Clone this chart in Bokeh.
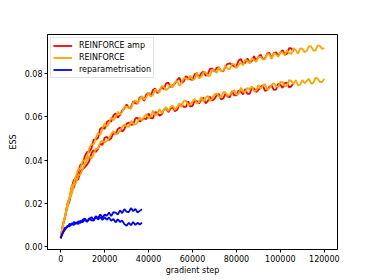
from bokeh.plotting import figure
from bokeh.models import Range1d, FixedTicker, PrintfTickFormatter, BasicTickFormatter
from bokeh.embed import file_html
from bokeh.resources import INLINE

# gradient steps at which the REINFORCE runs were logged (every 1000 steps)
steps = list(range(0, 120001, 1000))

# REINFORCE, run 1 (upper) and run 2 (lower)
reinforce_1 = [
    0.0040, 0.0103, 0.0141, 0.0196, 0.0227, 0.0277, 0.0294, 0.0328, 0.0358, 0.0362,
    0.0396, 0.0400, 0.0413, 0.0455, 0.0474, 0.0471, 0.0502, 0.0524, 0.0516, 0.0547,
    0.0570, 0.0554, 0.0570, 0.0597, 0.0584, 0.0597, 0.0623, 0.0609, 0.0622, 0.0646,
    0.0647, 0.0641, 0.0636, 0.0666, 0.0676, 0.0661, 0.0681, 0.0695, 0.0679, 0.0689,
    0.0712, 0.0692, 0.0701, 0.0726, 0.0717, 0.0713, 0.0742, 0.0737, 0.0722, 0.0731,
    0.0748, 0.0735, 0.0759, 0.0765, 0.0743, 0.0755, 0.0777, 0.0778, 0.0770, 0.0789,
    0.0769, 0.0774, 0.0802, 0.0776, 0.0784, 0.0805, 0.0804, 0.0788, 0.0790, 0.0818,
    0.0811, 0.0802, 0.0828, 0.0811, 0.0812, 0.0835, 0.0822, 0.0819, 0.0843, 0.0842,
    0.0823, 0.0838, 0.0851, 0.0836, 0.0863, 0.0858, 0.0845, 0.0869, 0.0862, 0.0853,
    0.0875, 0.0876, 0.0863, 0.0865, 0.0890, 0.0887, 0.0866, 0.0894, 0.0888, 0.0875,
    0.0898, 0.0896, 0.0883, 0.0906, 0.0893, 0.0889, 0.0916, 0.0907, 0.0891, 0.0915,
    0.0913, 0.0897, 0.0904, 0.0925, 0.0924, 0.0905, 0.0905, 0.0929, 0.0926, 0.0912,
    0.0917]
reinforce_2 = [
    0.0040, 0.0093, 0.0145, 0.0176, 0.0221, 0.0243, 0.0284, 0.0295, 0.0329, 0.0334,
    0.0358, 0.0382, 0.0400, 0.0417, 0.0407, 0.0426, 0.0453, 0.0453, 0.0482, 0.0490,
    0.0481, 0.0487, 0.0501, 0.0520, 0.0534, 0.0518, 0.0522, 0.0534, 0.0553, 0.0564,
    0.0556, 0.0553, 0.0581, 0.0568, 0.0563, 0.0574, 0.0596, 0.0582, 0.0600, 0.0612,
    0.0593, 0.0601, 0.0628, 0.0606, 0.0613, 0.0635, 0.0616, 0.0633, 0.0644, 0.0626,
    0.0644, 0.0652, 0.0632, 0.0643, 0.0661, 0.0645, 0.0673, 0.0674, 0.0655, 0.0657,
    0.0670, 0.0682, 0.0660, 0.0668, 0.0690, 0.0669, 0.0689, 0.0696, 0.0672, 0.0684,
    0.0703, 0.0707, 0.0694, 0.0689, 0.0714, 0.0712, 0.0696, 0.0701, 0.0714, 0.0722,
    0.0701, 0.0706, 0.0734, 0.0716, 0.0714, 0.0733, 0.0726, 0.0740, 0.0718, 0.0720,
    0.0746, 0.0729, 0.0743, 0.0750, 0.0723, 0.0731, 0.0747, 0.0755, 0.0740, 0.0738,
    0.0759, 0.0760, 0.0740, 0.0743, 0.0769, 0.0765, 0.0750, 0.0769, 0.0745, 0.0747,
    0.0769, 0.0754, 0.0765, 0.0775, 0.0753, 0.0755, 0.0781, 0.0775, 0.0760, 0.0760,
    0.0775]

# REINFORCE amp runs stop at 106000 steps
amp_steps = steps[:107]
amp_1 = [
    0.0040, 0.0104, 0.0140, 0.0197, 0.0224, 0.0275, 0.0308, 0.0318, 0.0346, 0.0379,
    0.0382, 0.0418, 0.0438, 0.0438, 0.0455, 0.0494, 0.0494, 0.0503, 0.0545, 0.0551,
    0.0543, 0.0575, 0.0583, 0.0577, 0.0606, 0.0615, 0.0596, 0.0607, 0.0629, 0.0639,
    0.0656, 0.0640, 0.0643, 0.0671, 0.0662, 0.0661, 0.0689, 0.0691, 0.0673, 0.0703,
    0.0710, 0.0696, 0.0723, 0.0730, 0.0709, 0.0721, 0.0736, 0.0727, 0.0754, 0.0757,
    0.0737, 0.0744, 0.0753, 0.0769, 0.0780, 0.0755, 0.0762, 0.0787, 0.0780, 0.0772,
    0.0770, 0.0796, 0.0801, 0.0781, 0.0801, 0.0809, 0.0789, 0.0797, 0.0822, 0.0822,
    0.0808, 0.0825, 0.0828, 0.0812, 0.0809, 0.0832, 0.0844, 0.0846, 0.0839, 0.0831,
    0.0833, 0.0859, 0.0866, 0.0846, 0.0848, 0.0869, 0.0849, 0.0857, 0.0879, 0.0858,
    0.0876, 0.0886, 0.0866, 0.0869, 0.0892, 0.0894, 0.0870, 0.0893, 0.0897, 0.0881,
    0.0896, 0.0907, 0.0886, 0.0891, 0.0916, 0.0915, 0.0901]
amp_2 = [
    0.0040, 0.0098, 0.0136, 0.0186, 0.0210, 0.0258, 0.0274, 0.0305, 0.0312, 0.0347,
    0.0359, 0.0367, 0.0379, 0.0396, 0.0432, 0.0445, 0.0438, 0.0451, 0.0477, 0.0470,
    0.0503, 0.0507, 0.0493, 0.0501, 0.0525, 0.0520, 0.0543, 0.0551, 0.0531, 0.0543,
    0.0567, 0.0573, 0.0562, 0.0565, 0.0592, 0.0595, 0.0578, 0.0584, 0.0593, 0.0589,
    0.0615, 0.0594, 0.0593, 0.0621, 0.0619, 0.0605, 0.0611, 0.0633, 0.0639, 0.0621,
    0.0637, 0.0645, 0.0625, 0.0632, 0.0656, 0.0656, 0.0645, 0.0645, 0.0671, 0.0647,
    0.0650, 0.0675, 0.0672, 0.0661, 0.0680, 0.0687, 0.0661, 0.0673, 0.0693, 0.0674,
    0.0683, 0.0699, 0.0704, 0.0680, 0.0684, 0.0706, 0.0693, 0.0690, 0.0718, 0.0699,
    0.0698, 0.0721, 0.0715, 0.0703, 0.0727, 0.0705, 0.0705, 0.0733, 0.0730, 0.0714,
    0.0723, 0.0737, 0.0745, 0.0719, 0.0722, 0.0738, 0.0744, 0.0724, 0.0725, 0.0752,
    0.0747, 0.0733, 0.0755, 0.0757, 0.0735, 0.0740, 0.0755]

# reparametrisation runs stop at 37000 steps
rep_steps = steps[:38]
rep_1 = [0.0040, 0.0065, 0.0089, 0.0090, 0.0106, 0.0101, 0.0115, 0.0106, 0.0118, 0.0110,
         0.0125, 0.0131, 0.0118, 0.0126, 0.0138, 0.0124, 0.0141, 0.0133, 0.0150, 0.0134,
         0.0149, 0.0144, 0.0159, 0.0142, 0.0160, 0.0158, 0.0149, 0.0168, 0.0156, 0.0174,
         0.0162, 0.0160, 0.0179, 0.0165, 0.0175, 0.0159, 0.0166, 0.0173]
rep_2 = [0.0040, 0.0067, 0.0079, 0.0097, 0.0094, 0.0109, 0.0101, 0.0113, 0.0105, 0.0121,
         0.0114, 0.0126, 0.0115, 0.0132, 0.0122, 0.0121, 0.0139, 0.0126, 0.0138, 0.0124,
         0.0137, 0.0125, 0.0136, 0.0120, 0.0129, 0.0113, 0.0127, 0.0115, 0.0121, 0.0105,
         0.0098, 0.0111, 0.0100, 0.0115, 0.0101, 0.0111, 0.0103, 0.0112]

x_ticks = [0, 20000, 40000, 60000, 80000, 100000, 120000]
y_ticks = [0.00, 0.02, 0.04, 0.06, 0.08]

FONT = "DejaVu Sans"

p = figure(width=374, height=280, output_backend="svg", toolbar_location=None,
           x_range=Range1d(-6000, 126000), y_range=Range1d(-0.0012, 0.0979),
           min_border_left=47, min_border_right=37, min_border_top=34, min_border_bottom=31)
p.background_fill_color = "white"
p.border_fill_color = "white"
p.xgrid.visible = False
p.ygrid.visible = False
p.outline_line_color = "black"
p.outline_line_width = 1

LW = 1.8
p.line(amp_steps, amp_1, color="#ff0000", line_width=LW, legend_label="REINFORCE amp")
p.line(amp_steps, amp_2, color="#ff0000", line_width=LW)
p.line(steps, reinforce_1, color="#ffa500", line_width=LW, legend_label="REINFORCE")
p.line(steps, reinforce_2, color="#ffa500", line_width=LW)
p.line(rep_steps, rep_1, color="#0000ff", line_width=LW, legend_label="reparametrisation")
p.line(rep_steps, rep_2, color="#0000ff", line_width=LW)

for ax in (p.xaxis[0], p.yaxis[0]):
    ax.axis_line_color = "black"
    ax.major_tick_line_color = "black"
    ax.major_tick_in = 0
    ax.major_tick_out = 3
    ax.minor_tick_line_color = None
    ax.major_label_text_font = FONT
    ax.major_label_text_font_size = "8px"
    ax.major_label_text_color = "black"
    ax.axis_label_text_font = FONT
    ax.axis_label_text_font_size = "8px"
    ax.axis_label_text_font_style = "normal"
    ax.axis_label_text_color = "black"
    ax.major_label_standoff = 2

p.xaxis[0].ticker = FixedTicker(ticks=x_ticks)
p.xaxis[0].formatter = BasicTickFormatter(use_scientific=False)
p.xaxis[0].axis_label = "gradient step"
p.xaxis[0].axis_label_standoff = 1
p.yaxis[0].ticker = FixedTicker(ticks=y_ticks)
p.yaxis[0].formatter = PrintfTickFormatter(format="%.2f")
p.yaxis[0].axis_label = "ESS"
p.yaxis[0].axis_label_standoff = 4

lg = p.legend[0]
lg.location = "top_left"
lg.margin = 3
lg.padding = 2
lg.spacing = 1
lg.glyph_width = 19
lg.glyph_height = 11
lg.label_height = 11
lg.label_standoff = 7
lg.label_text_font = FONT
lg.label_text_font_size = "8px"
lg.label_text_color = "black"
lg.border_line_color = "#cccccc"
lg.border_line_width = 1
lg.background_fill_alpha = 0.8

open("out.html", "w").write(file_html(p, INLINE))
